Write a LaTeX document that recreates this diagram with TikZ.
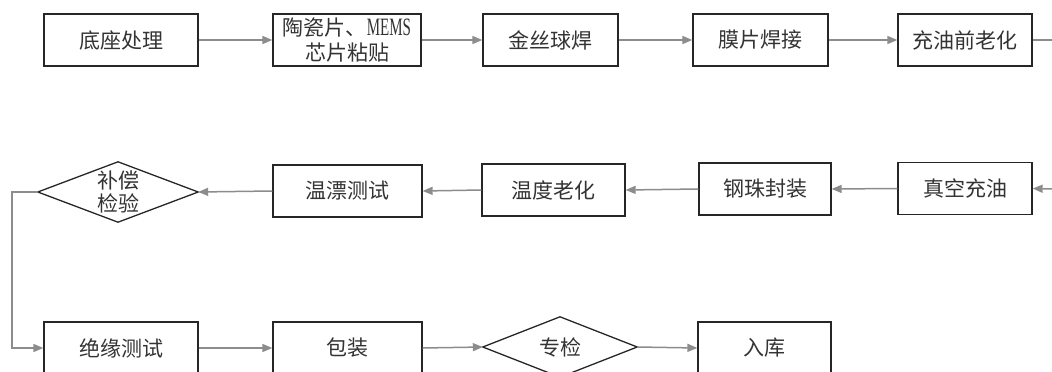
\documentclass[tikz,border=0pt]{standalone}
\usepackage{fontspec}
\setmainfont{Noto Sans CJK SC}
\newfontfamily\memsfont{Liberation Serif}[FakeStretch=0.6]
\usetikzlibrary{arrows.meta}
\definecolor{conngray}{HTML}{8C8C8C}
\definecolor{txt}{HTML}{333333}
\begin{document}
\begin{tikzpicture}[x=1pt,y=-1pt,
  stepbox/.style={draw=black!85, line width=1.3pt, minimum height=52pt, inner sep=0pt,
    font=\fontsize{21}{25}\selectfont, text=txt, align=center},
  decbox/.style={draw=none, inner sep=0pt, minimum height=60pt,
    font=\fontsize{21}{23}\selectfont, text=txt, align=center},
  conn/.style={draw=conngray, line width=1.5pt, -{Triangle[length=10pt,width=8pt]}},
  plainconn/.style={draw=conngray, line width=1.5pt},
  dia/.style={draw=black!85, line width=1.3pt, line join=miter}]
\useasboundingbox (0,0) rectangle (1052,372);
% row 1
\node[stepbox, minimum width=154pt] (a) at (121,40) {底座处理};
\node[stepbox, minimum width=148pt] (b) at (347,40) {陶瓷片、\smash{\memsfont\fontsize{25}{25}\selectfont MEMS}\\芯片粘贴};
\node[stepbox, minimum width=135pt] (c) at (550.5,40) {金丝球焊};
\node[stepbox, minimum width=135pt] (d) at (760.5,40) {膜片焊接};
\node[stepbox, minimum width=134pt] (e) at (965,40) {充油前老化};
\coordinate (eout) at (1053,40);
% row 2
\coordinate (fin) at (1053,189);
\node[stepbox, minimum width=134pt] (f) at (965,188.5) {真空充油};
\node[stepbox, minimum width=132pt] (g) at (765,189) {钢珠封装};
\node[stepbox, minimum width=143pt] (h) at (553.5,190) {温度老化};
\node[stepbox, minimum width=149pt] (i) at (347.5,191) {温漂测试};
\node[decbox, minimum width=160pt] (j) at (118,192) {补偿\\检验};
\draw[dia] (j.north) -- (j.east) -- (j.south) -- (j.west) -- cycle;
% row 3
\node[stepbox, minimum width=154pt] (k) at (121,348) {绝缘测试};
\node[stepbox, minimum width=149pt] (l) at (347.5,348) {包装};
\node[decbox, minimum width=154pt] (m) at (560,347) {专检};
\draw[dia] (m.north) -- (m.east) -- (m.south) -- (m.west) -- cycle;
\node[stepbox, minimum width=133pt] (n) at (764.5,348) {入库};
\coordinate (bend1) at (12,192);
\coordinate (bend2) at (12,348);
% connectors
\draw[conn] (a.east) -- (b.west);
\draw[conn] (b.east) -- (c.west);
\draw[conn] (c.east) -- (d.west);
\draw[conn] (d.east) -- (e.west);
\draw[plainconn] (e.east) -- (eout);
\draw[conn] (fin) -- (f.east);
\draw[conn] (f.west) -- (g.east);
\draw[conn] (g.west) -- (h.east);
\draw[conn] (h.west) -- (i.east);
\draw[conn] (i.west) -- (j.east);
\draw[conn] (j.west) -- (bend1) -- (bend2) -- (k.west);
\draw[conn] (k.east) -- (l.west);
\draw[conn] (l.east) -- (m.west);
\draw[conn] (m.east) -- (n.west);
\end{tikzpicture}
\end{document}
